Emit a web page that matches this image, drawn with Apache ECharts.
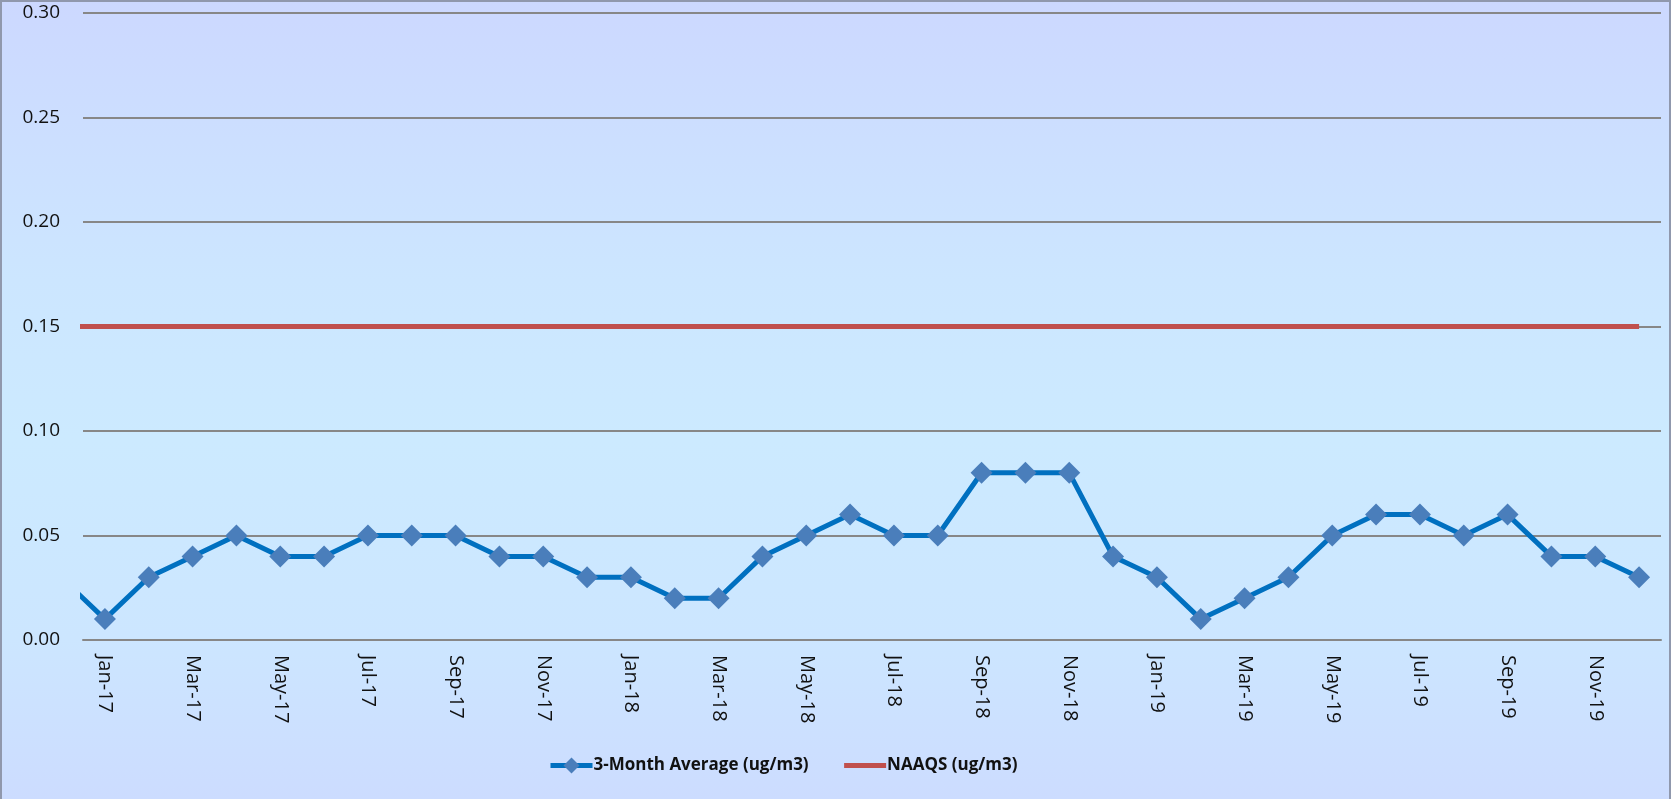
<!DOCTYPE html>
<html>
<head>
<meta charset="utf-8">
<script src="https://cdn.jsdelivr.net/npm/echarts@6/dist/echarts.min.js"></script>
<style>
  html, body { margin: 0; padding: 0; }
  #wrap { position: relative; width: 1671px; height: 799px;
    background: linear-gradient(to bottom, #ccd8ff 0%, #cce6ff 35%, #cceaff 55%, #cce6ff 80%, #ccdcff 100%); }
  #chart { position: absolute; left: 0; top: 0; width: 1671px; height: 799px; }
  #frame { position: absolute; left: 0; top: 0; width: 1667px; height: 799px;
    border-left: 2px solid #9098ad; border-top: 2px solid #9098ad; border-right: 2px solid #9098ad;
    pointer-events: none; box-sizing: content-box; }
</style>
</head>
<body>
<div id="wrap"><div id="chart"></div><div id="frame"></div></div>
<script>
// Months, including the month before the visible range (its segment is clipped at the left edge)
const months = ['Dec-16',
  'Jan-17','Feb-17','Mar-17','Apr-17','May-17','Jun-17','Jul-17','Aug-17','Sep-17','Oct-17','Nov-17','Dec-17',
  'Jan-18','Feb-18','Mar-18','Apr-18','May-18','Jun-18','Jul-18','Aug-18','Sep-18','Oct-18','Nov-18','Dec-18',
  'Jan-19','Feb-19','Mar-19','Apr-19','May-19','Jun-19','Jul-19','Aug-19','Sep-19','Oct-19','Nov-19','Dec-19'];
const avgValues = [0.03,
  0.01,0.03,0.04,0.05,0.04,0.04,0.05,0.05,0.05,0.04,0.04,0.03,
  0.03,0.02,0.02,0.04,0.05,0.06,0.05,0.05,0.08,0.08,0.08,0.04,
  0.03,0.01,0.02,0.03,0.05,0.06,0.06,0.05,0.06,0.04,0.04,0.03];
const naaqsValues = [0.15,
  0.15,0.15,0.15,0.15,0.15,0.15,0.15,0.15,0.15,0.15,0.15,0.15,
  0.15,0.15,0.15,0.15,0.15,0.15,0.15,0.15,0.15,0.15,0.15,0.15,
  0.15,0.15,0.15,0.15,0.15,0.15,0.15,0.15,0.15,0.15,0.15,0.15];
const yTicks = { min: 0, max: 0.3, interval: 0.05 };
const seriesNames = ['3-Month Average (ug/m3)', 'NAAQS (ug/m3)'];

const visibleMonths = months.slice(1);
const offset = months.length - visibleMonths.length;
const toPairs = arr => arr.map((v, i) => [i - offset, v]);

const chart = echarts.init(document.getElementById('chart'), null, { renderer: 'canvas' });
const font = "'Open Sans', 'Noto Sans', sans-serif";
chart.setOption({
  backgroundColor: 'transparent',
  animation: false,
  grid: { left: 83, right: 10, top: 13, bottom: 159, containLabel: false },
  legend: {
    left: 543, top: 752,
    itemWidth: 42, itemHeight: 20, itemGap: 33,
    lineStyle: { width: 5 },
    textStyle: { fontFamily: font, fontSize: 17, fontWeight: 'bold', color: '#111', padding: [0, 0, 0, -4] },
    data: [
      { name: seriesNames[0] },
      { name: seriesNames[1], itemStyle: { opacity: 0 } }
    ]
  },
  xAxis: [
    {
      type: 'category', data: visibleMonths, boundaryGap: true,
      axisLine: { show: true, lineStyle: { color: '#878787', width: 2 } },
      axisTick: { show: false },
      axisLabel: { interval: 1, rotate: -90, margin: 15, fontFamily: font, fontSize: 20, color: '#111' },
      splitLine: { show: false }
    },
    {
      type: 'value', min: -0.5, max: visibleMonths.length - 0.5, show: false,
      splitLine: { show: false }
    }
  ],
  yAxis: {
    type: 'value', min: yTicks.min, max: yTicks.max, interval: yTicks.interval,
    axisLine: { show: false }, axisTick: { show: false },
    axisLabel: { margin: 23, fontFamily: font, fontSize: 19, color: '#111', formatter: v => v.toFixed(2) },
    splitLine: { show: true, lineStyle: { color: '#878787', width: 2 } }
  },
  series: [
    {
      name: seriesNames[0], type: 'line', xAxisIndex: 1, clip: true, z: 3,
      data: toPairs(avgValues),
      symbol: 'diamond', symbolSize: 22,
      lineStyle: { color: '#0070c0', width: 5 },
      itemStyle: { color: '#4a7ebb' }
    },
    {
      name: seriesNames[1], type: 'line', xAxisIndex: 1, clip: true, z: 2,
      data: toPairs(naaqsValues),
      symbol: 'none', showSymbol: false,
      lineStyle: { color: '#c0504d', width: 5 },
      itemStyle: { color: '#c0504d' }
    }
  ]
});
</script>
</body>
</html>
